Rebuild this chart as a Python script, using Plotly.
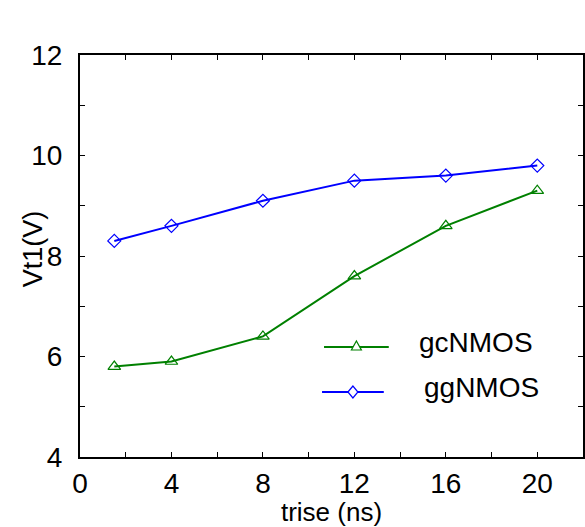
import plotly.graph_objects as go

trise = [1.5, 4, 8, 12, 16, 20]
gc_vt1 = [5.8, 5.9, 6.4, 7.6, 8.6, 9.3]
gg_vt1 = [8.3, 8.6, 9.1, 9.5, 9.6, 9.8]
names = ["gcNMOS", "ggNMOS"]
GREEN = "#008000"
BLUE = "#0000ff"
FONT = "Liberation Sans, Arial, sans-serif"

fig = go.Figure()
fig.add_trace(go.Scatter(x=trise, y=gc_vt1, mode="lines+markers", name=names[0],
                         line=dict(color=GREEN, width=2),
                         marker=dict(symbol="triangle-up-open", size=11, color=GREEN, line=dict(width=1.2))))
fig.add_trace(go.Scatter(x=trise, y=gg_vt1, mode="lines+markers", name=names[1],
                         line=dict(color=BLUE, width=2),
                         marker=dict(symbol="diamond-open", size=10, color=BLUE, line=dict(width=1.2))))

# manual legend (paper coordinates)
W, H = 585, 527
ml, mr, mt, mb = 80, 0, 55, 70
pw, ph = W - ml - mr, H - mt - mb
def px(x): return (x - ml) / pw
def py(y): return 1 - (y - mt) / ph

legend_rows = [(names[0], GREEN, 347, 325, 390, 418, "triangle"),
               (names[1], BLUE, 392, 323, 385, 423, "diamond")]
shapes = []
annotations = []
for name, col, yy, x0, x1, tx, sym in legend_rows:
    shapes.append(dict(type="line", xref="paper", yref="paper", x0=px(x0), x1=px(x1),
                       y0=py(yy), y1=py(yy), line=dict(color=col, width=2)))
    cx = (x0 + x1) / 2
    if sym == "triangle":
        path = f"M {px(cx-5)} {py(yy+3)} L {px(cx+5)} {py(yy+3)} L {px(cx)} {py(yy-6)} Z"
    else:
        path = f"M {px(cx-5)} {py(yy)} L {px(cx)} {py(yy-6)} L {px(cx+5)} {py(yy)} L {px(cx)} {py(yy+6)} Z"
    shapes.append(dict(type="path", xref="paper", yref="paper", path=path,
                       fillcolor="white", line=dict(color=col, width=1.2)))
    annotations.append(dict(xref="paper", yref="paper", x=px(tx), y=py(yy - 5), text=name,
                            showarrow=False, xanchor="left", yanchor="middle",
                            font=dict(size=28, color="black", family=FONT)))

# y-axis title placed as a rotated annotation
annotations.append(dict(xref="paper", yref="paper", x=px(33), y=py(249), text="Vt1(V)",
                        textangle=-90, showarrow=False, xanchor="center", yanchor="middle",
                        font=dict(size=27, color="black", family=FONT)))

fig.update_layout(
    width=W, height=H,
    margin=dict(l=ml, r=mr, t=mt, b=mb),
    plot_bgcolor="white", paper_bgcolor="white",
    showlegend=False,
    font=dict(family=FONT, size=28, color="black"),
    shapes=shapes, annotations=annotations,
)
fig.update_xaxes(range=[0, 22], tickvals=[0, 4, 8, 12, 16, 20], ticks="inside", ticklen=5,
                 tickwidth=1, tickcolor="black",
                 minor=dict(tickvals=[2, 6, 10, 14, 18], ticks="inside", ticklen=5, tickcolor="black"),
                 showline=True, linecolor="black", linewidth=2, mirror="ticks",
                 showgrid=False, zeroline=False, ticklabelstandoff=0,
                 tickfont=dict(size=28),
                 title=dict(text="trise (ns)", font=dict(size=26), standoff=0))
fig.update_yaxes(range=[4, 12], tickvals=[4, 6, 8, 10, 12], ticks="inside", ticklen=5,
                 tickwidth=1, tickcolor="black",
                 minor=dict(tickvals=[5, 7, 9, 11], ticks="inside", ticklen=5, tickcolor="black"),
                 showline=True, linecolor="black", linewidth=2, mirror="ticks",
                 showgrid=False, zeroline=False, ticklabelstandoff=10,
                 tickfont=dict(size=28))

fig.write_html("out.html")
